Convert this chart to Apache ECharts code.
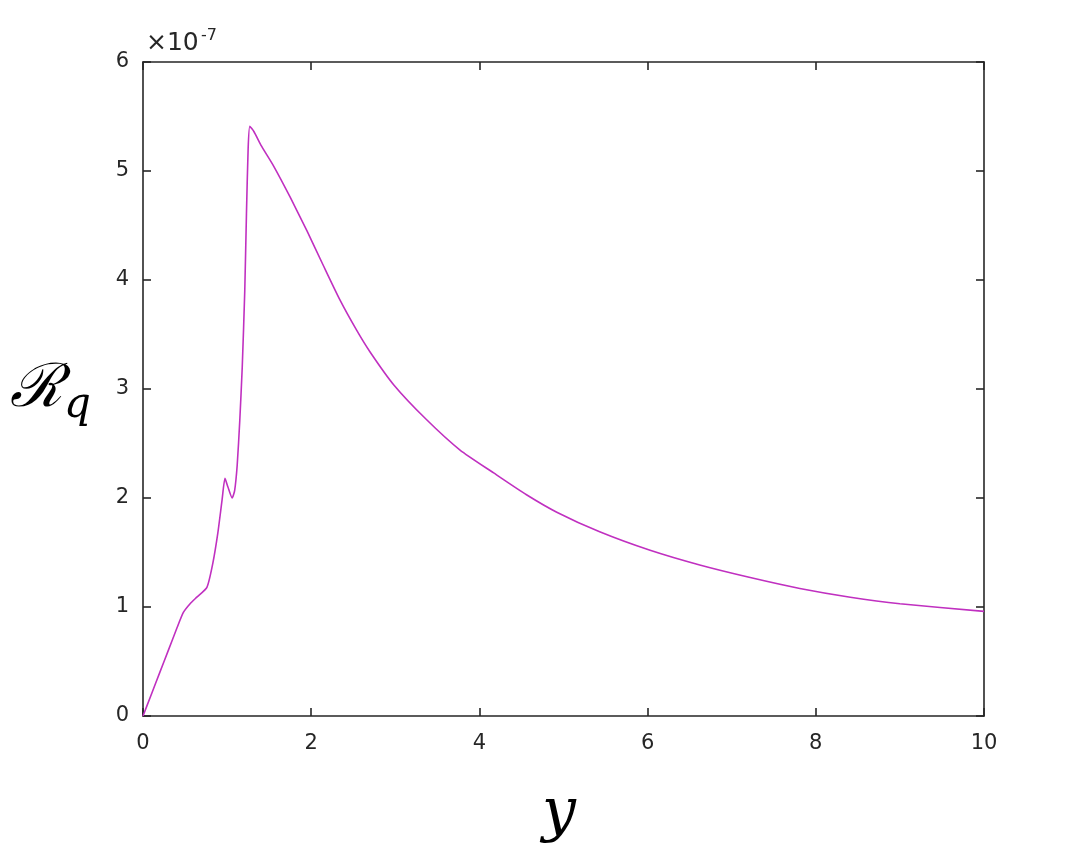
<!DOCTYPE html>
<html>
<head>
<meta charset="utf-8">
<script src="https://cdn.jsdelivr.net/npm/echarts@6/dist/echarts.min.js"></script>
<style>
  html, body { margin: 0; padding: 0; background: #fff; }
  #chart { width: 1089px; height: 865px; }
</style>
</head>
<body>
<div id="chart"></div>
<script>
// curve samples, R_q in units of 1e-7
const yPos = [0, 0.1, 0.2, 0.3, 0.4, 0.48, 0.56, 0.64, 0.76, 0.83, 0.89, 0.94, 0.975, 1.01, 1.06, 1.09, 1.12, 1.15, 1.18, 1.21, 1.23, 1.25, 1.27, 1.32, 1.4, 1.55, 1.75, 1.95, 2.14, 2.34, 2.54, 2.7, 2.98, 3.37, 3.77, 4.17, 4.56, 4.92, 5.43, 6.03, 6.62, 7.22, 7.81, 8.41, 9.0, 10.0]
const rq = [0, 0.2, 0.4, 0.6, 0.8, 0.95, 1.03, 1.09, 1.18, 1.40, 1.68, 1.98, 2.18, 2.1, 2.0, 2.07, 2.3, 2.7, 3.2, 3.9, 4.6, 5.2, 5.41, 5.36, 5.24, 5.05, 4.76, 4.45, 4.14, 3.82, 3.54, 3.34, 3.04, 2.72, 2.44, 2.23, 2.03, 1.87, 1.69, 1.52, 1.385, 1.27, 1.17, 1.09, 1.03, 0.96]
const xTicks = [0, 2, 4, 6, 8, 10]
const yTicks = [0, 1, 2, 3, 4, 5, 6]

const chart = echarts.init(document.getElementById('chart'))
const axisColor = '#262626'
const tickFont = { fontFamily: 'DejaVu Sans', fontSize: 21, color: axisColor }
const lineSt = { color: axisColor, width: 1.6 }

const points = yPos.map((x, i) => [x, rq[i]])

chart.setOption({
  animation: false,
  backgroundColor: '#fff',
  grid: { left: 143, right: 105, top: 62, bottom: 149 },
  xAxis: [
    {
      type: 'value', min: 0, max: 10, interval: 2,
      axisLine: { onZero: false, lineStyle: lineSt },
      axisTick: { inside: true, length: 8, lineStyle: lineSt },
      axisLabel: Object.assign({ margin: 17, formatter: v => xTicks.includes(v) ? String(v) : '' }, tickFont),
      splitLine: { show: false }
    },
    {
      type: 'value', min: 0, max: 10, interval: 2, position: 'top',
      axisLine: { onZero: false, lineStyle: lineSt },
      axisTick: { inside: true, length: 8, lineStyle: lineSt },
      axisLabel: { show: false },
      splitLine: { show: false }
    }
  ],
  yAxis: [
    {
      type: 'value', min: 0, max: 6, interval: 1,
      axisLine: { show: true, onZero: false, lineStyle: lineSt },
      axisTick: { show: true, inside: true, length: 8, lineStyle: lineSt },
      axisLabel: Object.assign({ margin: 14, formatter: v => yTicks.includes(v) ? String(v) : '' }, tickFont),
      splitLine: { show: false }
    },
    {
      type: 'value', min: 0, max: 6, interval: 1, position: 'right',
      axisLine: { show: true, onZero: false, lineStyle: lineSt },
      axisTick: { show: true, inside: true, length: 8, lineStyle: lineSt },
      axisLabel: { show: false },
      splitLine: { show: false }
    }
  ],
  series: [
    {
      type: 'line',
      data: points,
      smooth: 0.2,
      symbol: 'none',
      lineStyle: { color: '#c030c0', width: 1.6 }
    }
  ],
  graphic: [
    {
      type: 'text', left: 146, top: 31,
      style: { text: '×10', fontFamily: 'DejaVu Sans', fontSize: 25, fill: axisColor }
    },
    {
      type: 'text', left: 201, top: 28,
      style: { text: '-7', fontFamily: 'DejaVu Sans', fontSize: 16, fill: axisColor }
    },
    {
      type: 'text', left: 10, top: 360,
      style: { text: 'ℛ', fontFamily: 'DejaVu Serif', fontStyle: 'italic', fontSize: 60, fill: '#000' }
    },
    {
      type: 'text', left: 64, top: 385,
      style: { text: 'q', fontFamily: 'DejaVu Serif', fontStyle: 'italic', fontSize: 42, fill: '#000' }
    },
    {
      type: 'text', left: 542, top: 784,
      style: { text: 'y', fontFamily: 'DejaVu Serif', fontStyle: 'italic', fontSize: 60, fill: '#000' }
    }
  ]
})
</script>
</body>
</html>
